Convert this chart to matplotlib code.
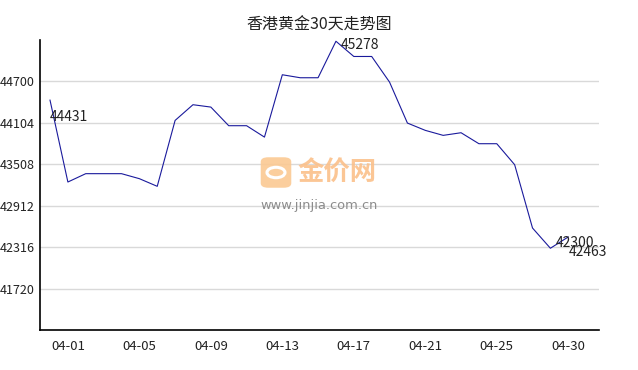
import matplotlib.pyplot as plt
import matplotlib.patches as mpatches

plt.rcParams['font.family'] = ['Noto Sans CJK SC', 'DejaVu Sans']

# --------------------------------------------
# DATA
# --------------------------------------------
dates = ['03-31'] + ['04-%02d' % d for d in range(1, 29)] + ['04-30']
prices = [44431, 43253, 43373, 43373, 43373, 43301, 43191, 44139, 44365, 44331,
          44063, 44063, 43899, 44796, 44753, 44753, 45278, 45059, 45059, 44690,
          44101, 43996, 43924, 43962, 43804, 43804, 43502, 42591, 42300, 42463]
y_ticks = [41720, 42316, 42912, 43508, 44104, 44700]
tick_idx = [1, 5, 9, 13, 17, 21, 25, 29]

# labelled points: index, offset in pixels
labels = [(0, (0, -17)), (16, (5, -4)), (28, (5, 5)), (29, (0, -15))]

# --------------------------------------------
# PLOT
# --------------------------------------------
fig = plt.figure(figsize=(6.38, 3.70), dpi=100)
ax = fig.add_axes([40/638, 1-330/370, 559/638, 290/370])

x = list(range(len(prices)))
ax.plot(x, prices, color='#1a1a9c', linewidth=0.8, zorder=3)

ax.set_xlim(-0.56, 30.72)
ax.set_ylim(41124, 45296)
ax.set_yticks(y_ticks)
ax.set_yticklabels([str(v) for v in y_ticks])
ax.set_xticks(tick_idx)
ax.set_xticklabels([dates[i] for i in tick_idx])
ax.tick_params(axis='y', length=0, pad=4, labelsize=9, colors='#222222')
ax.tick_params(axis='x', length=0, pad=7, labelsize=9.5, colors='#222222')
ax.grid(axis='y', color='#d9d9d9', linewidth=1)
ax.set_axisbelow(True)
for s in ['top', 'right']:
    ax.spines[s].set_visible(False)
for s in ['left', 'bottom']:
    ax.spines[s].set_color('black')
    ax.spines[s].set_linewidth(1.2)

for i, off in labels:
    ax.annotate(str(prices[i]), (x[i], prices[i]), xytext=off,
                textcoords='offset pixels', ha='left', va='center',
                fontsize=10, color='#222222', zorder=4)

fig.text(0.5, 1-25/370, '香港黄金30天走势图', ha='center', va='center',
         fontsize=11.5, color='#222222')

# watermark
icon = mpatches.FancyBboxPatch((262/638, 1-187/370), 28/638, 29/370,
                               boxstyle='round,pad=0.002,rounding_size=0.012',
                               transform=fig.transFigure, facecolor='#fbc992',
                               edgecolor='none', alpha=0.9)
fig.patches.append(icon)
ring = mpatches.Circle((276/638, 1-172.5/370), 9/638, transform=fig.transFigure,
                       facecolor='none', edgecolor='white', linewidth=2.2)
fig.patches.append(ring)
fig.text(297/638, 1-173/370, '金价网', ha='left', va='center', fontsize=19,
         fontweight='bold', color='#fbc08a', alpha=0.9)
fig.text(260/638, 1-206/370, 'www.jinjia.com.cn', ha='left', va='center',
         fontsize=9.4, color='#8c8c8c', family='DejaVu Sans')

fig.savefig('out.png', dpi=100)
